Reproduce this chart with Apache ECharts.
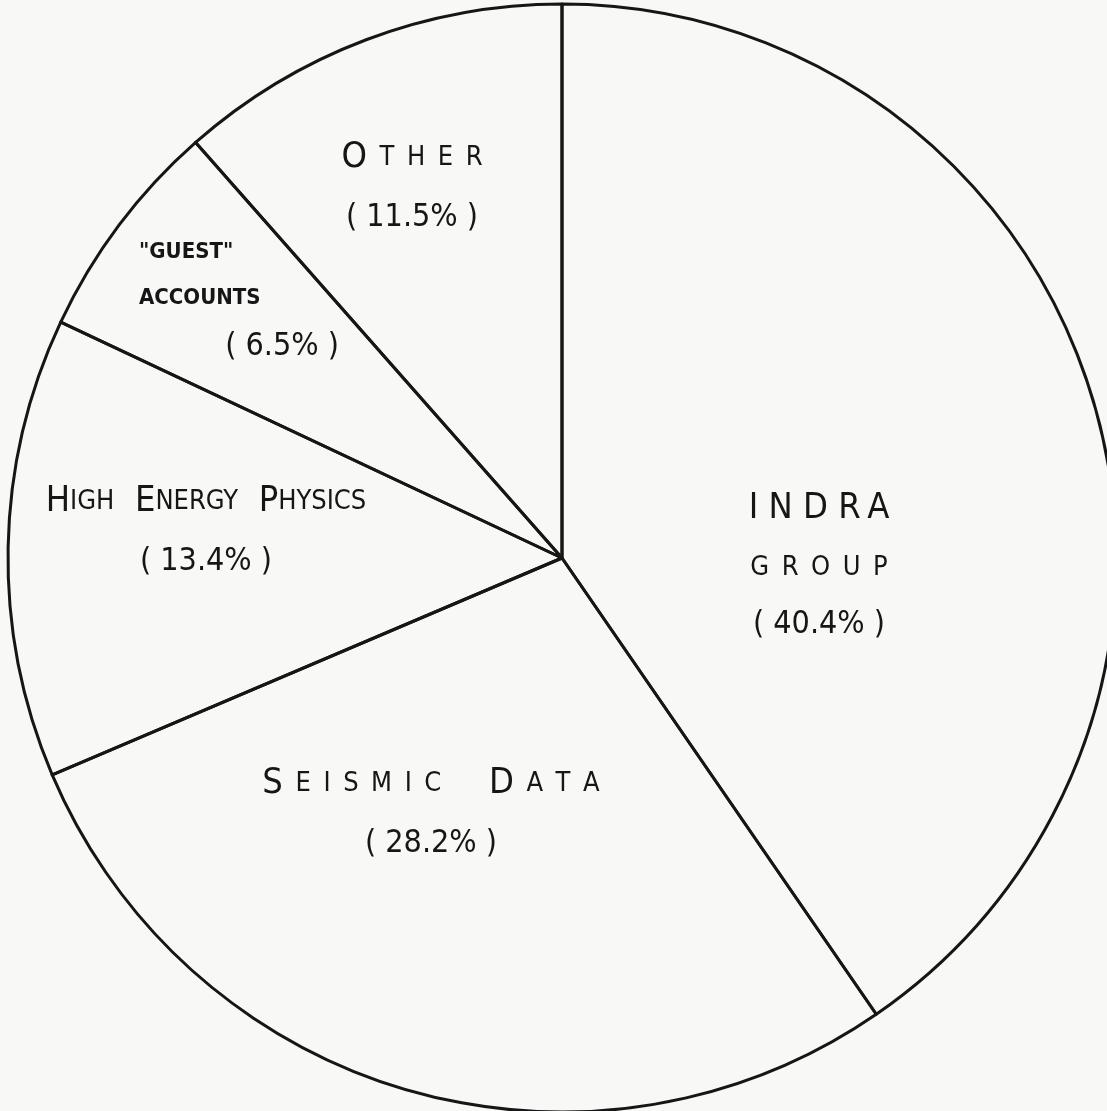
<!DOCTYPE html>
<html>
<head>
<meta charset="utf-8">
<script src="https://cdn.jsdelivr.net/npm/echarts@6/dist/echarts.min.js"></script>
<style>
  html, body { margin: 0; padding: 0; background: #f8f8f6; }
  #usage-pie { width: 1107px; height: 1111px; }
</style>
</head>
<body>
<div id="usage-pie"></div>
<script>
// share of usage, clockwise from 12 o'clock
const groupNames = ['INDRA GROUP', 'SEISMIC DATA', 'HIGH ENERGY PHYSICS', '"GUEST" ACCOUNTS', 'OTHER']
const groupShares = [40.4, 28.2, 13.4, 6.5, 11.5]

// hand lettered label text (small caps split into big / small parts)
// \u2009 = thin space, used to open up the lettering
const labelTexts = [
  '{big|I N D R\u2009A}\n{grp|G\u2009 R\u2009 O\u2009 U\u2009 P}\n{pct|( 40.4% )}',
  '{big|S}{sm|\u2009 E\u2009 I\u2009 S\u2009 M\u2009 I\u2009 C}{big|\u2009    D}{sm|\u2009 A\u2009 T\u2009 A}\n{pct|( 28.2% )}',
  '{big|H}{sm|IGH}{big|  E}{sm|NERGY}{big|  P}{sm|HYSICS}\n{pct|( 13.4% )}',
  '{gq|"GUEST"}\n{gq|ACCOUNTS}\n{gp|( 6.5% )}',
  '{big|O}{sm|\u2009 T\u2009 H\u2009 E\u2009 R}\n{pct|( 11.5% )}'
]

// where each label sits (centre of text block, px)
const labelSpots = [[819, 566], [431, 813], [206, 531], [239, 301], [412, 187]]

const font = '"DejaVu Sans Condensed", "DejaVu Sans", sans-serif'
const ink = '#161616'

let chart = echarts.init(document.getElementById('usage-pie'))
chart.setOption({
  animation: false,
  series: [
    {
      type: 'pie',
      center: [562, 558],
      radius: 554,
      startAngle: 90,
      clockwise: true,
      data: groupNames.map((n, i) => {
        let d = { name: n, value: groupShares[i] }
        // the guest label is a left/right block, give it a fixed width
        if (i === 3) d.label = { width: 200 }
        return d
      }),
      itemStyle: {
        color: 'rgba(0,0,0,0)',
        borderColor: ink,
        borderWidth: 3
      },
      emphasis: { disabled: true },
      label: {
        show: true,
        position: 'inside',
        color: ink,
        fontFamily: font,
        formatter: p => labelTexts[p.dataIndex],
        rich: {
          big: { fontSize: 36, fontFamily: font, color: ink, lineHeight: 62 },
          sm: { fontSize: 27, fontFamily: font, color: ink, lineHeight: 62 },
          grp: { fontSize: 27, fontFamily: font, color: ink, lineHeight: 56 },
          pct: { fontSize: 32, fontFamily: font, color: ink, lineHeight: 58 },
          gq: { fontSize: 22, fontFamily: font, fontWeight: 'bold', color: ink, lineHeight: 46, align: 'left' },
          gp: { fontSize: 32, fontFamily: font, color: ink, lineHeight: 52, align: 'right' }
        }
      },
      labelLine: { show: false },
      labelLayout: p => {
        let spot = labelSpots[p.dataIndex]
        return { x: spot[0], y: spot[1] }
      }
    }
  ]
})
</script>
</body>
</html>
